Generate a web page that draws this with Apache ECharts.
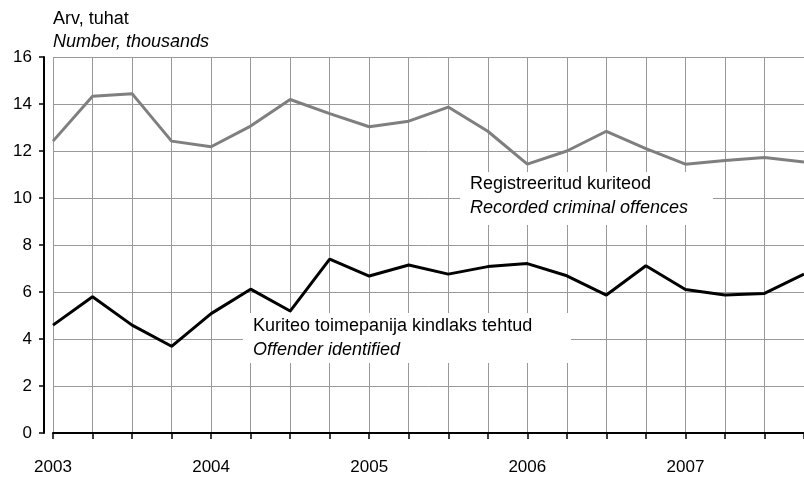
<!DOCTYPE html>
<html>
<head>
<meta charset="utf-8">
<script src="https://cdn.jsdelivr.net/npm/echarts@6/dist/echarts.min.js"></script>
<style>
  html, body { margin: 0; padding: 0; background: #fff; }
  #chart { width: 804px; height: 480px; }
</style>
</head>
<body>
<div id="chart"></div>
<script>
// kvartalid 2003 I - 2007 IV
var quarters = [
    '2003 I', '2003 II', '2003 III', '2003 IV',
    '2004 I', '2004 II', '2004 III', '2004 IV',
    '2005 I', '2005 II', '2005 III', '2005 IV',
    '2006 I', '2006 II', '2006 III', '2006 IV',
    '2007 I', '2007 II', '2007 III', '2007 IV'
];
// Registreeritud kuriteod, tuhat
var recorded = [
    12.42, 14.33, 14.44, 12.42, 12.18, 13.06, 14.19, 13.59, 13.03, 13.27,
    13.87, 12.84, 11.44, 12.0, 12.84, 12.1, 11.44, 11.6, 11.72, 11.53
];
// Kuriteo toimepanija kindlaks tehtud, tuhat
var identified = [
    4.59, 5.8, 4.59, 3.69, 5.08, 6.12, 5.19, 7.4, 6.68, 7.15,
    6.76, 7.08, 7.21, 6.69, 5.87, 7.12, 6.11, 5.87, 5.94, 6.76
];

var font = '"Liberation Sans", Arial, sans-serif';
var chart = echarts.init(document.getElementById('chart'));

var option = {
    backgroundColor: '#ffffff',
    animation: false,
    title: {
        text: 'Arv, tuhat',
        subtext: 'Number, thousands',
        left: 53,
        top: 10,
        itemGap: 5,
        padding: 0,
        textStyle: { fontFamily: font, fontSize: 18, fontWeight: 'normal', color: '#000' },
        subtextStyle: { fontFamily: font, fontSize: 18, fontStyle: 'italic', color: '#000' }
    },
    grid: {
        left: 53,
        top: 57,
        bottom: 47,
        right: -9 // viimane kvartal jääb pildist välja
    },
    xAxis: {
        type: 'category',
        boundaryGap: false,
        data: quarters,
        offset: 9,
        axisLine: { lineStyle: { color: '#000', width: 2 } },
        axisTick: { show: true, interval: 0, length: 6, lineStyle: { color: '#000', width: 1.5 } },
        axisLabel: {
            interval: 3,
            margin: 17,
            fontFamily: font,
            fontSize: 17,
            color: '#000',
            formatter: function (v) { return v.substring(0, 4); }
        },
        splitLine: { show: true, interval: 0, lineStyle: { color: '#999', width: 1 } }
    },
    yAxis: {
        type: 'value',
        min: 0,
        max: 16,
        interval: 2,
        offset: 9,
        axisLine: { show: true, lineStyle: { color: '#000', width: 2 } },
        axisTick: { show: true, length: 5, lineStyle: { color: '#000', width: 1.5 } },
        axisLabel: { margin: 12, fontFamily: font, fontSize: 17, color: '#000' },
        splitLine: { show: true, lineStyle: { color: '#999', width: 1 } }
    },
    graphic: [
        {
            type: 'rect', z: 1,
            shape: { x: 460, y: 172, width: 253, height: 53 },
            style: { fill: '#fff' }
        },
        {
            type: 'text', z: 1,
            style: { x: 470, y: 184, text: 'Registreeritud kuriteod', font: '18px ' + font, fill: '#000', verticalAlign: 'middle' }
        },
        {
            type: 'text', z: 1,
            style: { x: 470, y: 208, text: 'Recorded criminal offences', font: 'italic 18px ' + font, fill: '#000', verticalAlign: 'middle' }
        },
        {
            type: 'rect', z: 1,
            shape: { x: 243, y: 313, width: 328, height: 50 },
            style: { fill: '#fff' }
        },
        {
            type: 'text', z: 1,
            style: { x: 253, y: 326, text: 'Kuriteo toimepanija kindlaks tehtud', font: '18px ' + font, fill: '#000', verticalAlign: 'middle' }
        },
        {
            type: 'text', z: 1,
            style: { x: 253, y: 350, text: 'Offender identified', font: 'italic 18px ' + font, fill: '#000', verticalAlign: 'middle' }
        }
    ],
    series: [
        {
            name: 'Registreeritud kuriteod',
            type: 'line',
            data: recorded,
            symbol: 'none',
            z: 3,
            lineStyle: { color: '#7f7f7f', width: 3 }
        },
        {
            name: 'Kuriteo toimepanija kindlaks tehtud',
            type: 'line',
            data: identified,
            symbol: 'none',
            z: 3,
            lineStyle: { color: '#000', width: 3 }
        }
    ]
};
chart.setOption(option);
</script>
</body>
</html>
